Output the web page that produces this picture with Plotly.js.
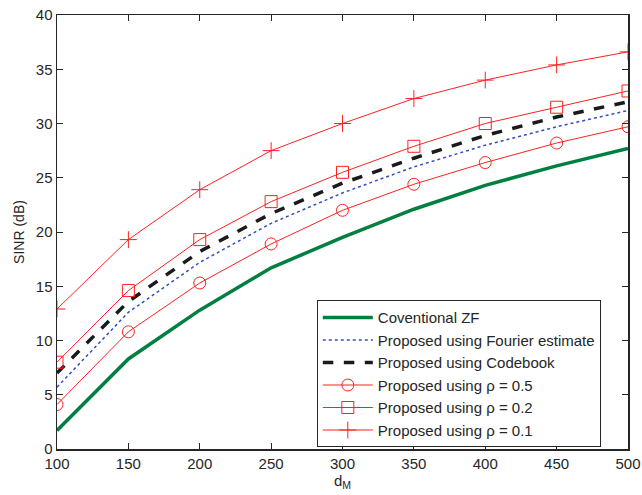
<!DOCTYPE html>
<html><head><meta charset="utf-8">
<script src="https://cdn.plot.ly/plotly-3.0.1.min.js"></script>
<style>html,body{margin:0;padding:0;background:#fff}</style>
</head><body>
<div id="chart" style="width:642px;height:495px"></div>
<script>
const dM = [100, 150, 200, 250, 300, 350, 400, 450, 500];
const zf = [1.7, 8.3, 12.8, 16.7, 19.5, 22.1, 24.3, 26.1, 27.7];
const fourier = [5.7, 12.6, 17.2, 20.8, 23.6, 26.0, 28.0, 29.7, 31.2];
const codebook = [7.0, 13.6, 18.2, 21.7, 24.5, 26.8, 28.9, 30.6, 32.0];
const rho05 = [4.1, 10.8, 15.3, 18.9, 22.0, 24.4, 26.4, 28.2, 29.7];
const rho02 = [8.0, 14.6, 19.3, 22.8, 25.5, 27.9, 30.0, 31.5, 33.0];
const rho01 = [12.9, 19.3, 23.9, 27.5, 30.0, 32.3, 34.0, 35.4, 36.6];
const names = ['Coventional ZF', 'Proposed using Fourier estimate', 'Proposed using Codebook',
  'Proposed using \u03C1 = 0.5', 'Proposed using \u03C1 = 0.2', 'Proposed using \u03C1 = 0.1'];
const xTicks = [100, 150, 200, 250, 300, 350, 400, 450, 500];
const yTicks = [0, 5, 10, 15, 20, 25, 30, 35, 40];

const red = '#ff2020';
const traces = [
  {x: dM, y: zf, name: names[0], mode: 'lines', line: {color: '#008040', width: 3.5}},
  {x: dM, y: fourier, name: names[1], mode: 'lines', line: {color: '#3050c0', width: 1.5, dash: 'dot'}},
  {x: dM, y: codebook, name: names[2], mode: 'lines', line: {color: '#1a1a1a', width: 3.5, dash: 'dash'}},
  {x: dM, y: rho05, name: names[3], mode: 'lines+markers', line: {color: red, width: 1},
   marker: {symbol: 'circle-open', size: 12, color: red, line: {width: 1, color: red}}},
  {x: dM, y: rho02, name: names[4], mode: 'lines+markers', line: {color: red, width: 1},
   marker: {symbol: 'square-open', size: 12, color: red, line: {width: 1, color: red}}},
  {x: dM, y: rho01, name: names[5], mode: 'lines+markers', line: {color: red, width: 1},
   marker: {symbol: 'cross-thin-open', size: 12, color: red, line: {width: 1, color: red}}}
];

const axisFont = {family: 'Liberation Sans, Arial, sans-serif', size: 15, color: '#262626'};
const layout = {
  width: 642, height: 495,
  margin: {l: 57, r: 14, t: 15, b: 46},
  paper_bgcolor: '#fff', plot_bgcolor: '#fff',
  font: axisFont,
  showlegend: true,
  xaxis: {
    range: [100, 500], tickvals: xTicks, ticks: 'inside', ticklen: 6, tickcolor: '#262626',
    showline: true, linecolor: '#262626', linewidth: 1.5, mirror: 'ticks',
    showgrid: false, zeroline: false, tickfont: axisFont,
    title: {text: 'd<sub>M</sub>', font: axisFont, standoff: 4}
  },
  yaxis: {
    range: [0, 40], tickvals: yTicks, ticks: 'inside', ticklen: 6, tickcolor: '#262626',
    showline: true, linecolor: '#262626', linewidth: 1.5, mirror: 'ticks',
    showgrid: false, zeroline: false, tickfont: axisFont,
    title: {text: 'SINR (dB)', font: {family: axisFont.family, size: 14, color: '#262626'}, standoff: 8}
  },
  legend: {
    x: 0.455, y: 0.004, xanchor: 'left', yanchor: 'bottom',
    bgcolor: '#fff', bordercolor: '#262626', borderwidth: 1,
    font: {family: axisFont.family, size: 15, color: '#262626'},
    tracegroupgap: 0, itemwidth: 50
  }
};
Plotly.newPlot('chart', traces, layout, {displayModeBar: false, staticPlot: true});
</script>
</body></html>
